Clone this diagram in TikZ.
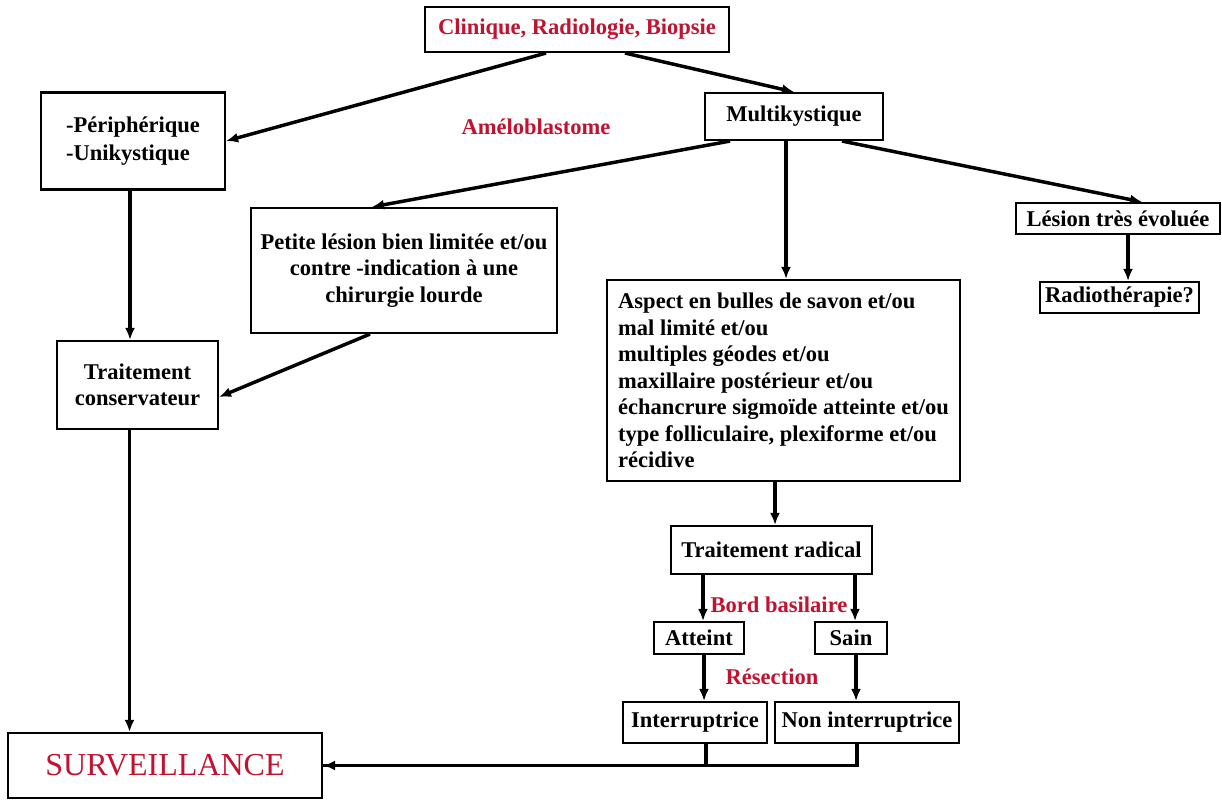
\documentclass[tikz,border=0pt]{standalone}
\usepackage{fontspec}
\setmainfont{Liberation Serif}
\usetikzlibrary{arrows.meta}
\definecolor{labelred}{RGB}{193,18,48}
\newdimen\pxu
\pxu=0.75pt
\begin{document}
\begin{tikzpicture}[x=0.75pt,y=-0.75pt,
  every node/.style={font=\bfseries\fontsize{16.9}{19.9}\selectfont},
  box/.style={draw, line width=1.6pt, inner sep=0pt},
  boxsize/.style 2 args={minimum width=#1*0.75pt, minimum height=#2*0.75pt},
  conn/.style={line width=2.6pt},
  arr/.style={conn, -{Latex[length=9pt,width=7.5pt]}},
  redlabel/.style={text=labelred}]
\useasboundingbox (0,0) rectangle (1222,803);

% boxes
\node[box, boxsize={304}{45}, redlabel] (top) at (577,29.5) {Clinique, Radiologie, Biopsie};
\node[box, boxsize={178}{47}] (multi) at (794,116.5) {Multikystique};
\node[box, boxsize={184}{97}, align=left] (peri) at (133,141) {-Périphérique\\[1.5pt]-Unikystique};
\node[redlabel] (amelo) at (536,127) {Améloblastome};
\node[box, boxsize={306}{125}, align=center] (petite) at (404,270.5)
  {Petite lésion bien limitée et/ou\\contre -indication à une\\chirurgie lourde};
\node[box, boxsize={161}{88}, align=center] (cons) at (137.5,385) {Traitement\\conservateur};
\node[box, boxsize={204}{31}] (lesion) at (1118,218.5) {Lésion très évoluée};
\node[box, boxsize={159}{31}] (radio) at (1119.5,297.5) {Radiothérapie?};
\node[box, boxsize={353}{201}, align=left] (aspect) at (783.5,380.5)
  {Aspect en bulles de savon et/ou\\mal limité et/ou\\multiples géodes et/ou\\maxillaire postérieur et/ou\\échancrure sigmoïde atteinte et/ou\\type folliculaire, plexiforme et/ou\\récidive};
\node[box, boxsize={201}{48}] (radical) at (771.5,550) {Traitement radical};
\node[redlabel] (bord) at (779,605) {Bord basilaire};
\node[box, boxsize={90}{32}] (atteint) at (699,638) {Atteint};
\node[box, boxsize={72}{32}] (sain) at (851,638) {Sain};
\node[redlabel] (resec) at (772,677) {Résection};
\node[box, boxsize={144}{41}] (inter) at (695,722.5) {Interruptrice};
\node[box, boxsize={184}{41}] (noninter) at (867,722.5) {Non interruptrice};
\node[box, boxsize={314}{65}, font=\fontsize{24}{28}\selectfont, redlabel] (surv) at (165,765.5) {SURVEILLANCE};

% connectors
\draw[arr] ([xshift=-31\pxu]top.south) -- (peri.east);
\draw[arr] ([xshift=48\pxu]top.south) -- (multi.north);
\draw[arr] ([xshift=-64\pxu]multi.south) -- ([xshift=-32\pxu]petite.north);
\draw[arr] ([xshift=-8\pxu]multi.south) -- ([xshift=2.5\pxu]aspect.north);
\draw[arr] ([xshift=48\pxu]multi.south) -- ([xshift=24\pxu]lesion.north);
\draw[arr] ([xshift=10\pxu]lesion.south) -- ([xshift=8.5\pxu]radio.north);
\draw[arr] ([xshift=-3\pxu]peri.south) -- ([xshift=-7.5\pxu]cons.north);
\draw[arr] ([xshift=-34\pxu]petite.south) -- ([yshift=-12\pxu]cons.east);
\draw[arr] ([xshift=-8\pxu]cons.south) -- ([xshift=-35.5\pxu]surv.north);
\draw[arr] ([xshift=-8.5\pxu]aspect.south) -- ([xshift=3.5\pxu]radical.north);
\draw[arr] ([xshift=-68.5\pxu]radical.south) -- ([xshift=4\pxu]atteint.north);
\draw[arr] ([xshift=83.5\pxu]radical.south) -- ([xshift=4\pxu]sain.north);
\draw[arr] ([xshift=5\pxu]atteint.south) -- ([xshift=9\pxu]inter.north);
\draw[arr] ([xshift=5\pxu]sain.south) -- ([xshift=-11\pxu]noninter.north);
\draw[conn] ([xshift=-10\pxu]noninter.south) |- (surv.east);
\draw[arr] ([xshift=11\pxu]inter.south) |- (surv.east);
\end{tikzpicture}
\end{document}
